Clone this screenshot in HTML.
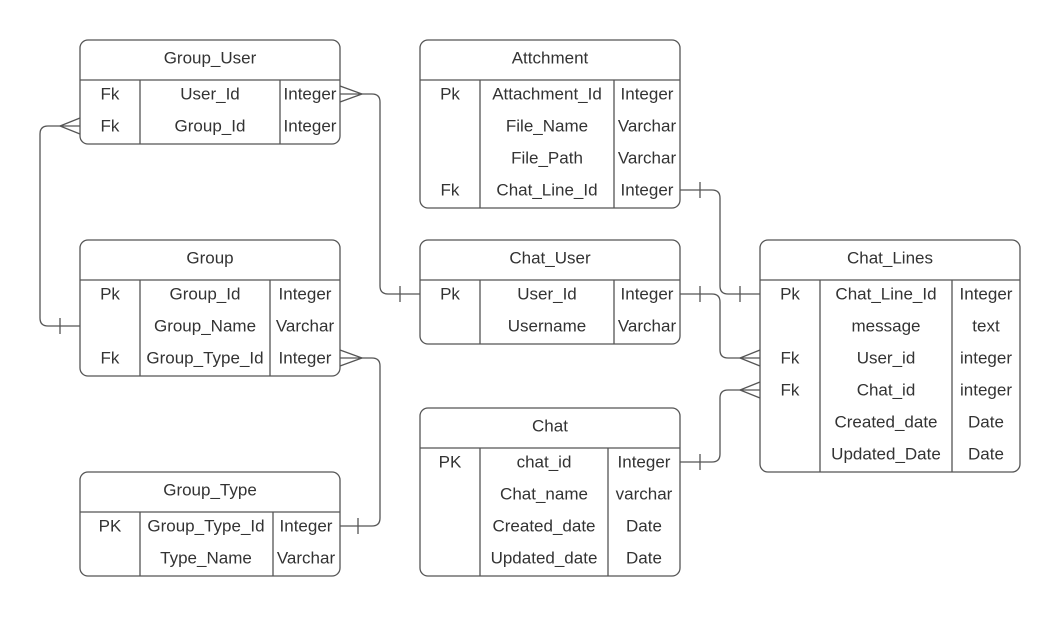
<!DOCTYPE html>
<html><head><meta charset="utf-8"><style>
html,body{margin:0;padding:0;background:#fff}
svg text{font-family:"Liberation Sans",sans-serif;font-size:17px;fill:#333;text-anchor:middle;dominant-baseline:central}
</style></head><body>
<svg width="1060" height="616" viewBox="0 0 1060 616" xmlns="http://www.w3.org/2000/svg">
<g fill="none" stroke="#555" stroke-width="1.3">
<!-- Group_User -->
<rect x="80" y="40" width="260" height="104" rx="8"/><line x1="80" y1="80" x2="340" y2="80"/><line x1="140" y1="80" x2="140" y2="144"/><line x1="280" y1="80" x2="280" y2="144"/>
<!-- Attchment -->
<rect x="420" y="40" width="260" height="168" rx="8"/><line x1="420" y1="80" x2="680" y2="80"/><line x1="480" y1="80" x2="480" y2="208"/><line x1="614" y1="80" x2="614" y2="208"/>
<!-- Group -->
<rect x="80" y="240" width="260" height="136" rx="8"/><line x1="80" y1="280" x2="340" y2="280"/><line x1="140" y1="280" x2="140" y2="376"/><line x1="270" y1="280" x2="270" y2="376"/>
<!-- Chat_User -->
<rect x="420" y="240" width="260" height="104" rx="8"/><line x1="420" y1="280" x2="680" y2="280"/><line x1="480" y1="280" x2="480" y2="344"/><line x1="614" y1="280" x2="614" y2="344"/>
<!-- Chat_Lines -->
<rect x="760" y="240" width="260" height="232" rx="8"/><line x1="760" y1="280" x2="1020" y2="280"/><line x1="820" y1="280" x2="820" y2="472"/><line x1="952" y1="280" x2="952" y2="472"/>
<!-- Group_Type -->
<rect x="80" y="472" width="260" height="104" rx="8"/><line x1="80" y1="512" x2="340" y2="512"/><line x1="140" y1="512" x2="140" y2="576"/><line x1="273" y1="512" x2="273" y2="576"/>
<!-- Chat -->
<rect x="420" y="408" width="260" height="168" rx="8"/><line x1="420" y1="448" x2="680" y2="448"/><line x1="480" y1="448" x2="480" y2="576"/><line x1="608" y1="448" x2="608" y2="576"/>

<!-- connectors -->
<path d="M340 94 H372 Q380 94 380 102 V286 Q380 294 388 294 H420"/><path d="M340 86 L362 94 L340 102"/><line x1="400" y1="286" x2="400" y2="302"/>
<path d="M80 126 H48 Q40 126 40 134 V318 Q40 326 48 326 H80"/><path d="M80 118 L60 126 L80 134"/><line x1="60" y1="318" x2="60" y2="334"/>
<path d="M340 358 H372 Q380 358 380 366 V518 Q380 526 372 526 H340"/><path d="M340 350 L362 358 L340 366"/><line x1="358" y1="518" x2="358" y2="534"/>
<path d="M680 190 H712 Q720 190 720 198 V286 Q720 294 728 294 H760"/><line x1="700" y1="182" x2="700" y2="198"/><line x1="740" y1="286" x2="740" y2="302"/>
<path d="M680 294 H712 Q720 294 720 302 V350 Q720 358 728 358 H760"/><line x1="700" y1="286" x2="700" y2="302"/><path d="M760 350 L740 358 L760 366"/>
<path d="M680 462 H712 Q720 462 720 454 V398 Q720 390 728 390 H760"/><line x1="700" y1="454" x2="700" y2="470"/><path d="M760 382 L740 390 L760 398"/>
</g>
<g>
<text x="210" y="58">Group_User</text>
<text x="110" y="94">Fk</text><text x="210" y="94">User_Id</text><text x="310" y="94">Integer</text>
<text x="110" y="126">Fk</text><text x="210" y="126">Group_Id</text><text x="310" y="126">Integer</text>

<text x="550" y="58">Attchment</text>
<text x="450" y="94">Pk</text><text x="547" y="94">Attachment_Id</text><text x="647" y="94">Integer</text>
<text x="547" y="126">File_Name</text><text x="647" y="126">Varchar</text>
<text x="547" y="158">File_Path</text><text x="647" y="158">Varchar</text>
<text x="450" y="190">Fk</text><text x="547" y="190">Chat_Line_Id</text><text x="647" y="190">Integer</text>

<text x="210" y="258">Group</text>
<text x="110" y="294">Pk</text><text x="205" y="294">Group_Id</text><text x="305" y="294">Integer</text>
<text x="205" y="326">Group_Name</text><text x="305" y="326">Varchar</text>
<text x="110" y="358">Fk</text><text x="205" y="358">Group_Type_Id</text><text x="305" y="358">Integer</text>

<text x="550" y="258">Chat_User</text>
<text x="450" y="294">Pk</text><text x="547" y="294">User_Id</text><text x="647" y="294">Integer</text>
<text x="547" y="326">Username</text><text x="647" y="326">Varchar</text>

<text x="890" y="258">Chat_Lines</text>
<text x="790" y="294">Pk</text><text x="886" y="294">Chat_Line_Id</text><text x="986" y="294">Integer</text>
<text x="886" y="326">message</text><text x="986" y="326">text</text>
<text x="790" y="358">Fk</text><text x="886" y="358">User_id</text><text x="986" y="358">integer</text>
<text x="790" y="390">Fk</text><text x="886" y="390">Chat_id</text><text x="986" y="390">integer</text>
<text x="886" y="422">Created_date</text><text x="986" y="422">Date</text>
<text x="886" y="454">Updated_Date</text><text x="986" y="454">Date</text>

<text x="210" y="490">Group_Type</text>
<text x="110" y="526">PK</text><text x="206" y="526">Group_Type_Id</text><text x="306" y="526">Integer</text>
<text x="206" y="558">Type_Name</text><text x="306" y="558">Varchar</text>

<text x="550" y="426">Chat</text>
<text x="450" y="462">PK</text><text x="544" y="462">chat_id</text><text x="644" y="462">Integer</text>
<text x="544" y="494">Chat_name</text><text x="644" y="494">varchar</text>
<text x="544" y="526">Created_date</text><text x="644" y="526">Date</text>
<text x="544" y="558">Updated_date</text><text x="644" y="558">Date</text>
</g>
</svg>
</body></html>
